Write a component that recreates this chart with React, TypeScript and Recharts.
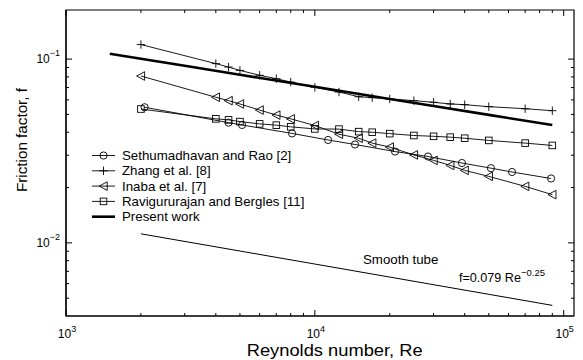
import { LineChart, Line, XAxis, YAxis, ReferenceArea } from 'recharts';

// Sethumadhavan and Rao [2]
const sethuRe = [2070, 4500, 5100, 8100, 11300, 14500, 21000, 28500, 39000, 51000, 62000, 89000];
const sethuF = [0.0547, 0.0451, 0.0438, 0.0394, 0.0363, 0.0343, 0.0314, 0.0295, 0.0272, 0.0255, 0.0243, 0.0224];

// Zhang et al. [8]
const zhangRe = [2000, 4000, 4500, 5000, 6000, 7000, 8000, 10000, 12500, 15000, 17000, 20000, 25000, 30000, 35000, 40000, 50000, 70000, 90000];
const zhangF = [0.12, 0.0945, 0.0905, 0.0868, 0.0816, 0.0782, 0.075, 0.0702, 0.0662, 0.0624, 0.0617, 0.0607, 0.0594, 0.0582, 0.057, 0.0565, 0.0551, 0.0537, 0.0524];

// Inaba et al. [7]
const inabaRe = [2000, 4000, 4500, 5000, 6000, 7000, 8000, 10000, 12500, 15000, 17000, 20000, 25000, 30000, 35000, 40000, 50000, 70000, 90000];
const inabaF = [0.0809, 0.062, 0.0594, 0.057, 0.0528, 0.0496, 0.0473, 0.0435, 0.039, 0.0371, 0.0349, 0.0332, 0.0301, 0.0281, 0.0264, 0.0248, 0.023, 0.0203, 0.0183];

// Ravigururajan and Bergles [11]
const raviRe = [2000, 4000, 4500, 5000, 6000, 7000, 8000, 10000, 12500, 15000, 17000, 20000, 25000, 30000, 35000, 40000, 50000, 70000, 90000];
const raviF = [0.0535, 0.0473, 0.0467, 0.0457, 0.0444, 0.0437, 0.0428, 0.0417, 0.0416, 0.0403, 0.04, 0.0393, 0.0384, 0.038, 0.0376, 0.0371, 0.0361, 0.0349, 0.0339];

// Present work
const presentRe = [1500, 2000, 3000, 5000, 10000, 20000, 30000, 50000, 90000];
const presentF = [0.107, 0.1005, 0.092, 0.0822, 0.0707, 0.0607, 0.0556, 0.0497, 0.0438];

// Smooth tube, f=0.079 Re^-0.25
const smoothRe = [2000, 10000, 90000];
const smoothF = [0.0112, 0.00767, 0.00457];

const xTicks = [1000, 2000, 3000, 4000, 5000, 6000, 7000, 8000, 9000, 10000, 20000, 30000, 40000, 50000, 60000, 70000, 80000, 90000, 100000];
const yTicks = [0.005, 0.006, 0.007, 0.008, 0.009, 0.01, 0.02, 0.03, 0.04, 0.05, 0.06, 0.07, 0.08, 0.09, 0.1];

const legendNames = ['Sethumadhavan and Rao [2]', 'Zhang et al. [8]', 'Inaba et al. [7]', 'Ravigururajan and Bergles [11]', 'Present work'];

const FONT = '"Liberation Sans", Arial, Helvetica, sans-serif';
const W = 583;
const H = 360;
const TOP = 10;
const BOTTOM = 316;
const LEFT = 66;
const RIGHT = 574;

const pts = (xs: number[], ys: number[]) => xs.map((re, i) => ({ re, f: ys[i] }));

const isMajor = (v: number) => Math.abs(Math.log10(v) - Math.round(Math.log10(v))) < 1e-9;

type Kind = 'circle' | 'plus' | 'tri' | 'square';

function Marker({ kind, cx, cy }: { kind: Kind; cx: number; cy: number }) {
  const s = { stroke: '#000', strokeWidth: 0.9, fill: 'none' };
  if (kind === 'circle') return <circle cx={cx} cy={cy} r={3.6} {...s} />;
  if (kind === 'square') return <rect x={cx - 3.3} y={cy - 3.3} width={6.6} height={6.6} {...s} />;
  if (kind === 'tri')
    return <polygon points={`${cx - 4.3},${cy} ${cx + 3.7},${cy - 4.3} ${cx + 3.7},${cy + 4.3}`} {...s} />;
  return <path d={`M${cx - 4.2},${cy}H${cx + 4.2}M${cx},${cy - 4.2}V${cy + 4.2}`} {...s} />;
}

const dotFor = (kind: Kind) => (props: any) => (
  <Marker key={`${kind}-${props.index}`} kind={kind} cx={props.cx} cy={props.cy} />
);

function XTick(props: any) {
  const { x, payload } = props;
  const v = payload.value;
  const major = isMajor(v);
  const len = major ? 6 : 3;
  return (
    <g>
      <line x1={x} y1={BOTTOM} x2={x} y2={BOTTOM - len} stroke="#000" strokeWidth={1} />
      <line x1={x} y1={TOP} x2={x} y2={TOP + len} stroke="#000" strokeWidth={1} />
      {major && (
        <text x={x + 1} y={338} textAnchor="middle" fontSize={12} fontFamily={FONT} fill="#000">
          10<tspan dy={-6} fontSize={9}>{Math.round(Math.log10(v))}</tspan>
        </text>
      )}
    </g>
  );
}

function YTick(props: any) {
  const { y, payload } = props;
  const v = payload.value;
  const major = isMajor(v);
  const len = major ? 6 : 3;
  return (
    <g>
      <line x1={LEFT} y1={y} x2={LEFT + len} y2={y} stroke="#000" strokeWidth={1} />
      <line x1={RIGHT} y1={y} x2={RIGHT - len} y2={y} stroke="#000" strokeWidth={1} />
      {major && (
        <text x={60} y={y + 4} textAnchor="end" fontSize={12} fontFamily={FONT} fill="#000">
          10<tspan dy={-7} fontSize={9}>{'\u2212' + Math.abs(Math.round(Math.log10(v)))}</tspan>
        </text>
      )}
    </g>
  );
}

const legendKinds: (Kind | null)[] = ['circle', 'plus', 'tri', 'square', null];

export default function App() {
  return (
    <div style={{ position: 'absolute', left: 0, top: 0, width: W, height: H, background: '#fff' }}>
      <LineChart width={W} height={H} margin={{ top: TOP, right: W - RIGHT, bottom: 0, left: 0 }}>
        <XAxis
          dataKey="re"
          type="number"
          scale="log"
          domain={[1000, 110000]}
          ticks={xTicks}
          interval={0}
          allowDataOverflow
          height={H - BOTTOM}
          tickLine={false}
          axisLine={{ stroke: '#000', strokeWidth: 1.2 }}
          tick={(p: any) => <XTick {...p} />}
        />
        <YAxis
          type="number"
          scale="log"
          domain={[0.004, 0.185]}
          ticks={yTicks}
          interval={0}
          allowDataOverflow
          width={LEFT}
          tickLine={false}
          axisLine={{ stroke: '#000', strokeWidth: 1.2 }}
          tick={(p: any) => <YTick {...p} />}
        />
        <ReferenceArea x1={1000} x2={110000} y1={0.004} y2={0.185} fill="none" stroke="#000" strokeWidth={1.2} />
        <Line data={pts(smoothRe, smoothF)} dataKey="f" stroke="#000" strokeWidth={1} dot={false} activeDot={false} isAnimationActive={false} />
        <Line data={pts(presentRe, presentF)} dataKey="f" stroke="#000" strokeWidth={2.6} dot={false} activeDot={false} isAnimationActive={false} />
        <Line data={pts(raviRe, raviF)} dataKey="f" stroke="#000" strokeWidth={0.9} dot={dotFor('square')} activeDot={false} isAnimationActive={false} />
        <Line data={pts(inabaRe, inabaF)} dataKey="f" stroke="#000" strokeWidth={0.9} dot={dotFor('tri')} activeDot={false} isAnimationActive={false} />
        <Line data={pts(zhangRe, zhangF)} dataKey="f" stroke="#000" strokeWidth={0.9} dot={dotFor('plus')} activeDot={false} isAnimationActive={false} />
        <Line data={pts(sethuRe, sethuF)} dataKey="f" stroke="#000" strokeWidth={0.9} dot={dotFor('circle')} activeDot={false} isAnimationActive={false} />
      </LineChart>
      <svg width={W} height={H} style={{ position: 'absolute', left: 0, top: 0, pointerEvents: 'none' }} fontFamily={FONT}>
        {legendNames.map((name, i) => {
          const base = 160 + i * 15.3;
          const ly = base - 4.5;
          const kind = legendKinds[i];
          return (
            <g key={name}>
              <line x1={92} y1={ly} x2={115} y2={ly} stroke="#000" strokeWidth={kind ? 0.9 : 2.6} />
              {kind && <Marker kind={kind} cx={103.5} cy={ly} />}
              <text x={122} y={base} fontSize={13.3} fill="#000">{name}</text>
            </g>
          );
        })}
        <text x={363} y={263.5} fontSize={13.3} fill="#000">Smooth tube</text>
        <text x={459} y={282} fontSize={12.6} fill="#000">
          f=0.079 Re<tspan dy={-6} fontSize={9.5}>{'\u22120.25'}</tspan>
        </text>
        <text x={334.7} y={355.5} textAnchor="middle" fontSize={16.5} textLength={176} lengthAdjust="spacingAndGlyphs" fill="#000">
          Reynolds number, Re
        </text>
        <text transform="translate(26.5,140) rotate(-90)" textAnchor="middle" fontSize={15.5} textLength={104} lengthAdjust="spacingAndGlyphs" fill="#000">
          Friction factor, f
        </text>
      </svg>
    </div>
  );
}
